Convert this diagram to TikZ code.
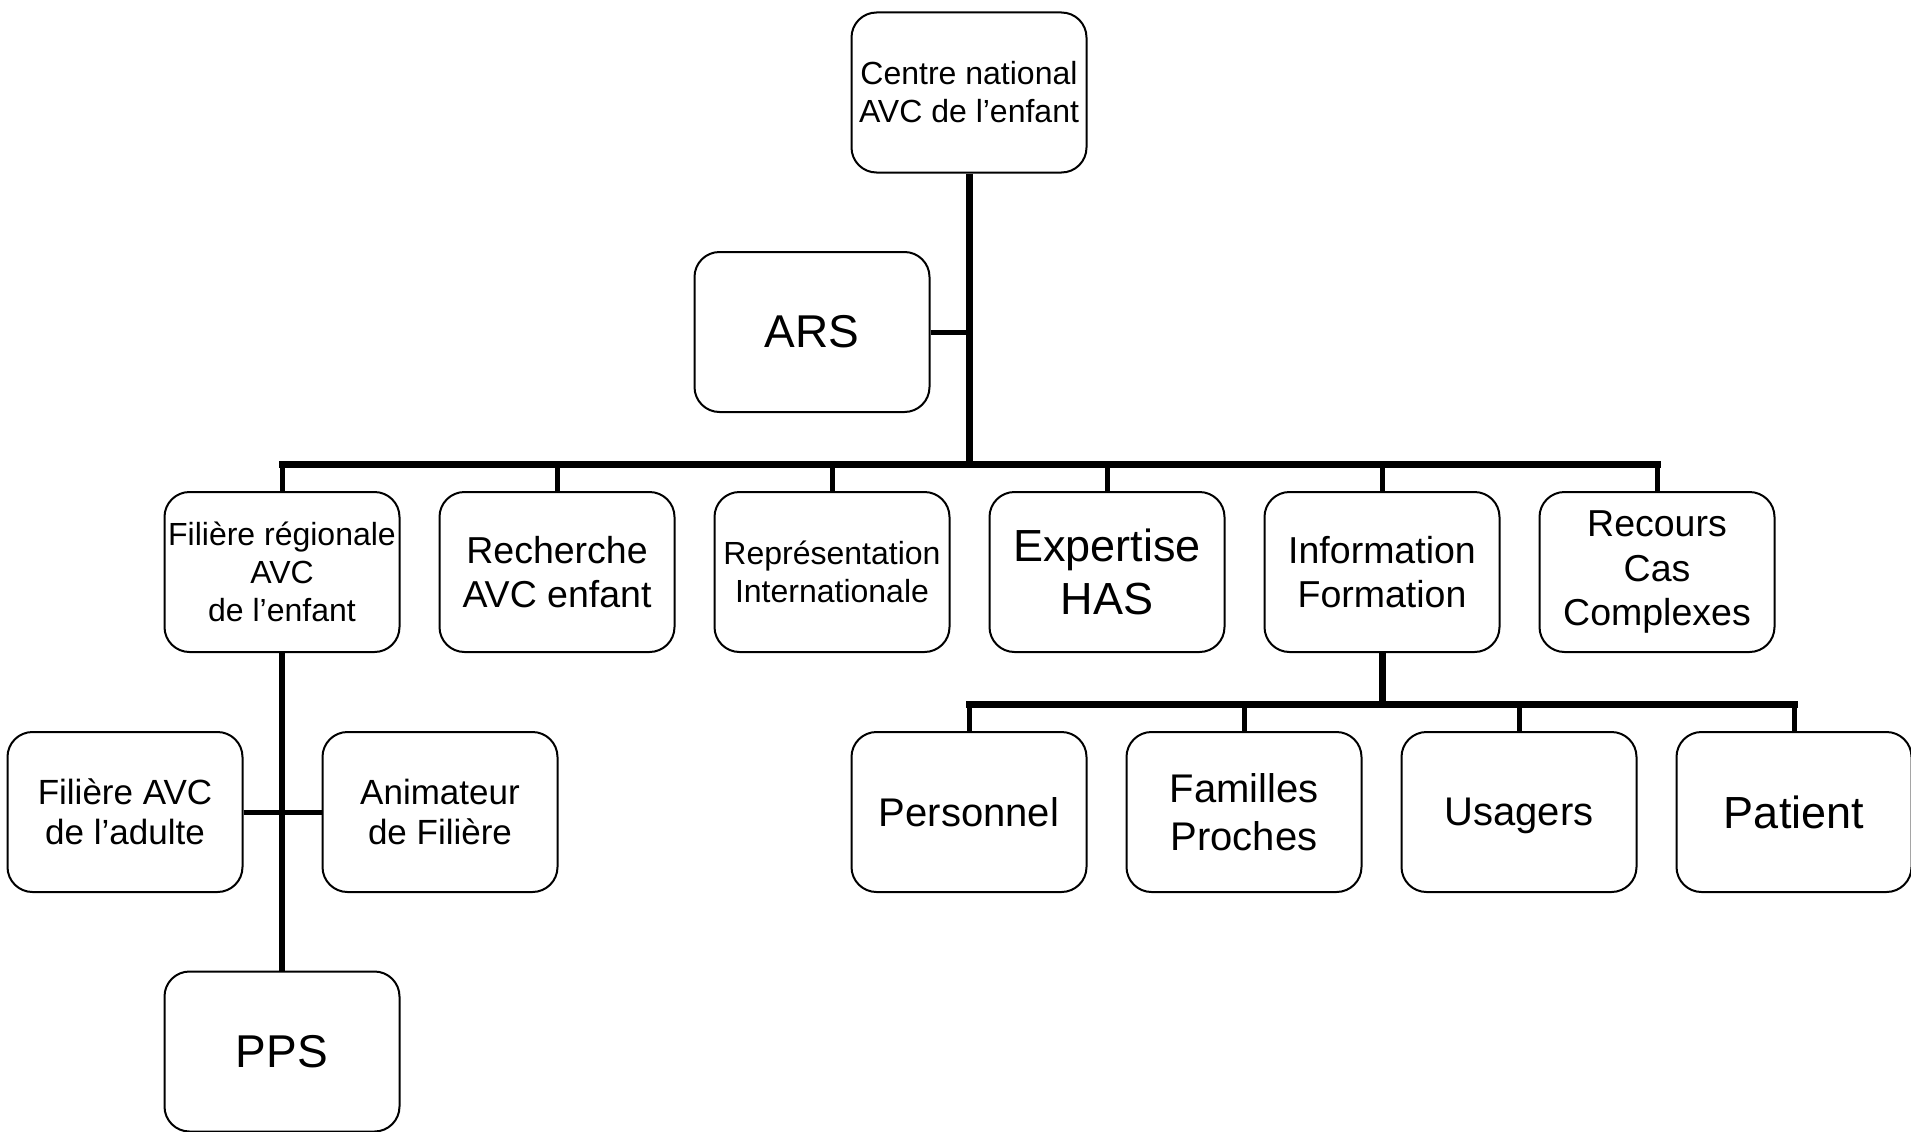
\documentclass[tikz,border=0pt]{standalone}
\usepackage{fontspec}
\setmainfont{Liberation Sans}
\begin{document}
\begin{tikzpicture}[x=1pt,y=-1pt,
  box/.style={draw=black,line width=2pt,rounded corners=25pt,minimum width=235pt,minimum height=160pt,inner sep=1pt,align=center,fill=white},
  trunk/.style={line width=7pt,line cap=rect},
  drop/.style={line width=5pt},
  fA/.style={font=\fontsize{32}{38}\selectfont},
  fB/.style={font=\fontsize{37.5}{44.5}\selectfont},
  fP/.style={font=\fontsize{40}{47.5}\selectfont},
  fC/.style={font=\fontsize{45}{53}\selectfont},
  fD/.style={font=\fontsize{46}{55}\selectfont},
  fE/.style={font=\fontsize{35}{40.5}\selectfont}]
\useasboundingbox (0,0) rectangle (1911,1132);
% nodes
\node[box,fA] (centre) at (969,92.5) {Centre national\\AVC de l’enfant};
\node[box,fD] (ars) at (812,332) {ARS};
\node[box,fA] (fr) at (282,572) {Filière régionale\\AVC\\de l’enfant};
\node[box,fB] (rech) at (557,572) {Recherche\\AVC enfant};
\node[box,fA] (rep) at (832,572) {Représentation\\Internationale};
\node[box,fC] (exp) at (1107,572) {Expertise\\HAS};
\node[box,fB] (info) at (1382,572) {Information\\Formation};
\node[box,fB] (rec) at (1657,572) {Recours\\Cas\\Complexes};
\node[box,fE] (adult) at (125,812) {Filière AVC\\de l’adulte};
\node[box,fE] (anim) at (440,812) {Animateur\\de Filière};
\node[box,fD] (pps) at (282,1051.5) {PPS};
\node[box,fP] (pers) at (969,812) {Personnel};
\node[box,fP] (fam) at (1244,812) {Familles\\Proches};
\node[box,fP,text depth=0pt] (usa) at (1519,812) {Usagers};
\node[box,fC] (pat) at (1794,812) {Patient};
\coordinate (bus) at (0,464);
\coordinate (sub) at (0,704.5);
% connectors
\draw[trunk,line cap=butt] (centre.south) -- (centre.south |- bus);
\draw[drop] (ars.east) -- (ars.east -| centre.south);
\draw[trunk] (fr.north |- bus) -- (rec.north |- bus);
\foreach \n in {fr,rech,rep,exp,info,rec}{\draw[drop] (\n.north) -- (\n.north |- bus);}
\draw[drop,line width=6pt] (fr.south) -- (pps.north);
\draw[drop] (adult.east) -- (anim.west);
\draw[trunk,line cap=butt] (info.south) -- (info.south |- sub);
\draw[trunk] (pers.north |- sub) -- (pat.north |- sub);
\foreach \n in {pers,fam,usa,pat}{\draw[drop] (\n.north) -- (\n.north |- sub);}
\end{tikzpicture}
\end{document}
